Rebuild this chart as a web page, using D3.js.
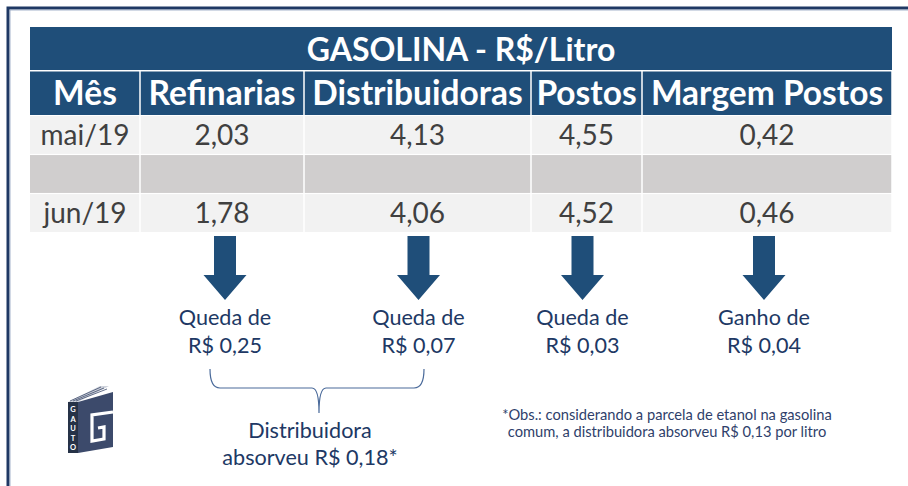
<!DOCTYPE html>
<html>
<head>
<meta charset="utf-8">
<script src="https://cdn.jsdelivr.net/npm/d3@7/dist/d3.min.js"></script>
<style>
  html, body { margin: 0; padding: 0; background: #ffffff; }
  svg { display: block; font-family: Lato, "Open Sans", sans-serif; }
</style>
</head>
<body>
<svg id="chart" width="908" height="486"></svg>
<script>
// ---------------- DATA ----------------
const title = "GASOLINA - R$/Litro";
const firstHeader = "Mês";
const columns = ["Refinarias", "Distribuidoras", "Postos", "Margem Postos"];
const months = ["mai/19", "jun/19"];
const maiValues = [2.03, 4.13, 4.55, 0.42];
const junValues = [1.78, 4.06, 4.52, 0.46];
const changeLabels = ["Queda de", "Queda de", "Queda de", "Ganho de"];
const changeValues = [0.25, 0.07, 0.03, 0.04];
const braceLabel = ["Distribuidora", "absorveu R$ 0,18*"];
const obsNote = ["*Obs.: considerando a parcela de etanol na gasolina",
                 "comum, a distribuidora absorveu R$ 0,13 por litro"];
const logoLetters = ["G", "A", "U", "T", "O"];

// ---------------- LAYOUT ----------------
const svg = d3.select("#chart");
const navy = "#1f4e79";
const textNavy = "#203864";
const locale = d3.formatLocale({decimal: ",", thousands: ".", grouping: [3], currency: ["R$ ", ""]});
const fmt = locale.format(".2f");
const fmtMoney = v => "R$ " + fmt(v);

// outer frame
svg.append("rect").attr("x", 8).attr("y", 8).attr("width", 1000).attr("height", 1000)
  .attr("fill", "none").attr("stroke", "#1f3864").attr("stroke-width", 3);
svg.append("rect").attr("x", 10).attr("y", 10).attr("width", 1000).attr("height", 1000)
  .attr("fill", "none").attr("stroke", "#8fa0bd").attr("stroke-width", 0.8);

// column scale (unequal widths)
const allCols = [firstHeader].concat(columns);
const colWidths = [110, 164, 227, 111, 250];
const tableLeft = 30;
const edges = [tableLeft];
colWidths.forEach(w => edges.push(edges[edges.length - 1] + w));
const xLeft = d3.scaleOrdinal().domain(allCols).range(edges.slice(0, -1));
const xWidth = d3.scaleOrdinal().domain(allCols).range(colWidths);
const xCenter = c => xLeft(c) + xWidth(c) / 2;
const tableRight = edges[edges.length - 1];

// rows
const rowKeys = [months[0], "gap", months[1]];
const y = d3.scaleBand().domain(rowKeys).range([116, 232]).paddingInner(0.03);
const gap = 1.5;

// title row
svg.append("rect").attr("x", tableLeft).attr("y", 27).attr("width", tableRight - tableLeft).attr("height", 43)
  .attr("fill", navy);
svg.append("text").attr("x", (tableLeft + tableRight) / 2 + 0).attr("y", 60.5)
  .attr("text-anchor", "middle").attr("fill", "#fff").attr("font-weight", 700)
  .attr("font-size", 32).text(title);

// header row
const head = svg.append("g");
head.selectAll("rect").data(allCols).join("rect")
  .attr("x", d => xLeft(d) + (d === firstHeader ? 0 : gap / 2))
  .attr("y", 71.5)
  .attr("width", d => xWidth(d) - gap / 2 - (d === firstHeader ? 0 : gap / 2))
  .attr("height", 43.5)
  .attr("fill", navy);
head.selectAll("text").data(allCols).join("text")
  .attr("x", d => xCenter(d)).attr("y", 104.5)
  .attr("text-anchor", "middle").attr("fill", "#fff").attr("font-weight", 700)
  .attr("font-size", 33.5).text(d => d);

// body rows
const rowsData = [
  {key: months[0], label: months[0], values: maiValues, fill: "#f2f2f2"},
  {key: "gap", label: "", values: [null, null, null, null], fill: "#d0cece"},
  {key: months[1], label: months[1], values: junValues, fill: "#f2f2f2"}
];
rowsData.forEach(r => {
  const g = svg.append("g");
  const cells = allCols.map((c, i) => ({col: c, text: i === 0 ? r.label : (r.values[i - 1] == null ? "" : fmt(r.values[i - 1]))}));
  g.selectAll("rect").data(cells).join("rect")
    .attr("x", d => xLeft(d.col) + (d.col === firstHeader ? 0 : gap / 2))
    .attr("y", y(r.key))
    .attr("width", d => xWidth(d.col) - gap / 2 - (d.col === firstHeader ? 0 : gap / 2))
    .attr("height", y.bandwidth())
    .attr("fill", r.fill);
  g.selectAll("text").data(cells).join("text")
    .attr("x", d => xCenter(d.col)).attr("y", y(r.key) + y.bandwidth() / 2 + 10)
    .attr("text-anchor", "middle").attr("fill", "#404040")
    .attr("font-size", 28).text(d => d.text);
});

// arrows
const arrowTop = 236, headStart = 275, tip = 300, shaftHalf = 11, headHalf = 21.5;
const arrowPath = cx => {
  const p = d3.path();
  p.moveTo(cx - shaftHalf, arrowTop);
  p.lineTo(cx + shaftHalf, arrowTop);
  p.lineTo(cx + shaftHalf, headStart);
  p.lineTo(cx + headHalf, headStart);
  p.lineTo(cx, tip);
  p.lineTo(cx - headHalf, headStart);
  p.lineTo(cx - shaftHalf, headStart);
  p.closePath();
  return p.toString();
};
const arrowOffsets = [3, 1, -4, -3];
const changes = columns.map((c, i) => ({col: c, label: changeLabels[i], value: changeValues[i], cx: xCenter(c) + arrowOffsets[i]}));
svg.append("g").selectAll("path").data(changes).join("path")
  .attr("d", d => arrowPath(d.cx)).attr("fill", navy);

const ann = svg.append("g").attr("fill", textNavy).attr("font-size", 21.6).attr("text-anchor", "middle");
ann.selectAll("text.l1").data(changes).join("text").attr("class", "l1")
  .attr("x", d => d.cx).attr("y", 325).text(d => d.label);
ann.selectAll("text.l2").data(changes).join("text").attr("class", "l2")
  .attr("x", d => d.cx).attr("y", 353).text(d => fmtMoney(d.value));

// brace
const bx1 = 210, bx2 = 424, bmid = (bx1 + bx2) / 2 + 2;
const by0 = 369, by1 = 388, by2 = 413;
const brace = d3.path();
brace.moveTo(bx1, by0);
brace.quadraticCurveTo(bx1, by1, bx1 + 10, by1);
brace.lineTo(bmid - 7, by1);
brace.quadraticCurveTo(bmid, by1, bmid, by2);
brace.quadraticCurveTo(bmid, by1, bmid + 7, by1);
brace.lineTo(bx2 - 10, by1);
brace.quadraticCurveTo(bx2, by1, bx2, by0);
svg.append("path").attr("d", brace.toString()).attr("fill", "none")
  .attr("stroke", "#4a6a9a").attr("stroke-width", 1.2);

svg.append("g").attr("fill", textNavy).attr("font-size", 21.6).attr("text-anchor", "middle")
  .selectAll("text").data(braceLabel).join("text")
  .attr("x", 310).attr("y", (d, i) => 438 + i * 27).text(d => d);

// note
svg.append("g").attr("fill", "#2f3f6b").attr("font-size", 14.7).attr("text-anchor", "middle")
  .selectAll("text").data(obsNote).join("text")
  .attr("x", 667).attr("y", (d, i) => 420 + i * 17).text(d => d);

// logo
const logo = svg.append("g");
logo.append("path").attr("d", "M68,402 L100,386 L109,386 L78,402 Z").attr("fill", "#cfd3dc");
logo.append("path").attr("d", "M70,401 L101,387 M73,401 L104,388 M76,401 L107,389").attr("stroke", "#3c4a6b").attr("stroke-width", 0.8).attr("fill", "none");
logo.append("path").attr("d", "M78,402 L113,392 L113,447 L78,453 Z").attr("fill", "#3c4a6b");
logo.append("rect").attr("x", 68).attr("y", 402).attr("width", 10).attr("height", 51).attr("fill", "#263247");
logo.append("path").attr("d", "M113,412 L92,415 L92,441 L104,439 L104,427 L98,428")
  .attr("fill", "none").attr("stroke", "#ffffff").attr("stroke-width", 3.2);
logo.selectAll("text").data(logoLetters).join("text")
  .attr("x", 73).attr("y", (d, i) => 412 + i * 9.5).attr("text-anchor", "middle")
  .attr("fill", "#fff").attr("font-size", 7.5).attr("font-weight", 700).text(d => d);
</script>
</body>
</html>
